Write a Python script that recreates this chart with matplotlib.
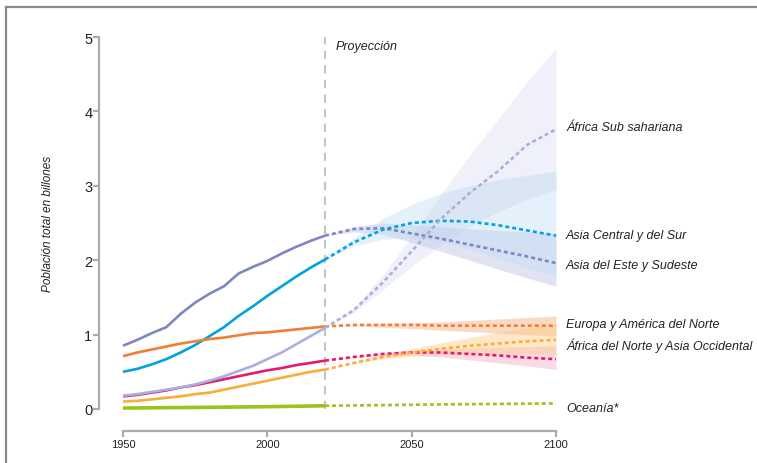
import matplotlib as mpl
mpl.use('Agg')
import matplotlib.pyplot as plt
from matplotlib.lines import Line2D
import numpy as np

plt.rcParams['font.family'] = ['Liberation Sans', 'DejaVu Sans']

# historical estimates (billions), 1950-2020 every 5 years
years_hist = list(range(1950, 2021, 5))
east_asia_hist = [0.85, 0.93, 1.02, 1.10, 1.28, 1.43, 1.55, 1.65, 1.82, 1.91, 1.99, 2.09, 2.18, 2.26, 2.33]
south_asia_hist = [0.50, 0.54, 0.60, 0.67, 0.76, 0.86, 0.98, 1.10, 1.25, 1.38, 1.52, 1.65, 1.78, 1.90, 2.01]
ssa_hist = [0.18, 0.20, 0.23, 0.26, 0.29, 0.33, 0.38, 0.44, 0.51, 0.58, 0.67, 0.76, 0.87, 0.98, 1.09]
europe_hist = [0.71, 0.76, 0.80, 0.84, 0.88, 0.91, 0.94, 0.96, 0.99, 1.02, 1.03, 1.05, 1.07, 1.09, 1.11]
nawa_hist = [0.10, 0.11, 0.13, 0.15, 0.17, 0.20, 0.22, 0.26, 0.30, 0.34, 0.38, 0.42, 0.46, 0.50, 0.53]
latam_hist = [0.17, 0.19, 0.22, 0.25, 0.29, 0.32, 0.36, 0.40, 0.44, 0.48, 0.52, 0.55, 0.59, 0.62, 0.65]
oceania_hist = [0.013, 0.014, 0.016, 0.018, 0.019, 0.021, 0.023, 0.025, 0.027, 0.029, 0.031, 0.034, 0.037, 0.040, 0.043]

# projections 2020-2100 every 10 years: median, low, high
years_proj = list(range(2020, 2101, 10))
ssa_proj = [1.09, 1.33, 1.70, 2.12, 2.55, 2.90, 3.20, 3.55, 3.76]
ssa_lo = [1.09, 1.30, 1.60, 1.92, 2.20, 2.45, 2.65, 2.82, 2.95]
ssa_hi = [1.09, 1.36, 1.80, 2.32, 2.88, 3.40, 3.90, 4.40, 4.85]
south_asia_proj = [2.01, 2.24, 2.41, 2.50, 2.53, 2.52, 2.47, 2.40, 2.33]
south_asia_lo = [2.01, 2.19, 2.28, 2.30, 2.25, 2.15, 2.02, 1.90, 1.78]
south_asia_hi = [2.01, 2.30, 2.56, 2.75, 2.90, 3.00, 3.08, 3.14, 3.20]
east_asia_proj = [2.33, 2.42, 2.43, 2.36, 2.29, 2.21, 2.13, 2.05, 1.96]
east_asia_lo = [2.33, 2.38, 2.35, 2.24, 2.12, 2.00, 1.88, 1.76, 1.65]
east_asia_hi = [2.33, 2.45, 2.50, 2.48, 2.45, 2.42, 2.40, 2.38, 2.36]
europe_proj = [1.11, 1.13, 1.13, 1.13, 1.12, 1.12, 1.12, 1.12, 1.12]
europe_lo = [1.11, 1.12, 1.10, 1.08, 1.06, 1.04, 1.02, 1.00, 0.98]
europe_hi = [1.11, 1.14, 1.15, 1.16, 1.17, 1.19, 1.21, 1.23, 1.25]
nawa_proj = [0.53, 0.62, 0.70, 0.76, 0.81, 0.85, 0.88, 0.91, 0.93]
nawa_lo = [0.53, 0.61, 0.67, 0.71, 0.73, 0.74, 0.74, 0.74, 0.73]
nawa_hi = [0.53, 0.63, 0.73, 0.81, 0.89, 0.96, 1.03, 1.09, 1.15]
latam_proj = [0.65, 0.70, 0.74, 0.76, 0.76, 0.74, 0.72, 0.69, 0.67]
latam_lo = [0.65, 0.69, 0.72, 0.72, 0.70, 0.66, 0.62, 0.58, 0.53]
latam_hi = [0.65, 0.71, 0.76, 0.79, 0.81, 0.82, 0.83, 0.84, 0.85]
oceania_proj = [0.043, 0.048, 0.052, 0.057, 0.061, 0.065, 0.068, 0.072, 0.075]

labels = ['África Sub sahariana', 'Asia Central y del Sur', 'Asia del Este y Sudeste',
          'Europa y América del Norte', 'África del Norte y Asia Occidental', 'Oceanía*']
label_y = [3.79, 2.34, 1.94, 1.14, 0.86, 0.013]

series = [
    # hist, proj, lo, hi, line colour, band colour, band alpha
    (east_asia_hist, east_asia_proj, east_asia_lo, east_asia_hi, '#7f86c1', '#a9b1dd', 0.35),
    (south_asia_hist, south_asia_proj, south_asia_lo, south_asia_hi, '#00a3dc', '#bcdcf4', 0.40),
    (europe_hist, europe_proj, europe_lo, europe_hi, '#ef7f32', '#f7a46a', 0.40),
    (latam_hist, latam_proj, latam_lo, latam_hi, '#e5186f', '#f08aaa', 0.30),
    (nawa_hist, nawa_proj, nawa_lo, nawa_hi, '#f9ad3a', '#fcc77a', 0.40),
    (ssa_hist, ssa_proj, ssa_lo, ssa_hi, '#a9b0dc', '#c2c6ea', 0.25),
    (oceania_hist, oceania_proj, None, None, '#9bc31c', None, 0),
]

fig = plt.figure(figsize=(7.57, 4.64), dpi=100)
ax = fig.add_axes([123/757, 54/464, 433/757, 372/464])

for hist, proj, lo, hi, c, bc, a in series:
    if lo is not None:
        ax.fill_between(years_proj, lo, hi, color=bc, alpha=a, lw=0, zorder=1)

lw = 1.9
for hist, proj, lo, hi, c, bc, a in series:
    w = 2.6 if c == '#9bc31c' else lw
    ax.plot(years_hist, hist, color=c, lw=w, solid_capstyle='butt', zorder=3, clip_on=False)
    ax.plot(years_proj, proj, color=c, lw=lw, ls=(0, (1.5, 1.15)), zorder=3, clip_on=False)

# projection marker
ax.plot([2020, 2020], [0, 5], color='#c4c4c4', lw=1.5, ls=(0, (4, 3)), zorder=2, clip_on=False)
ax.text(2023.5, 4.88, 'Proyección', fontsize=9, style='italic', va='center', color='#222222')

for t, yv in zip(labels, label_y):
    ax.text(2103.5, yv, t, fontsize=9, style='italic', va='center', color='#222222', clip_on=False)

ax.set_xlim(1950, 2100)
ax.set_ylim(0, 5)
ax.set_xticks([1950, 2000, 2050, 2100])
ax.set_yticks([0, 1, 2, 3, 4, 5])
for s in ['top', 'right']:
    ax.spines[s].set_visible(False)
ax.spines['left'].set_position(('outward', 17))
ax.spines['bottom'].set_position(('outward', 16))
for s in ['left', 'bottom']:
    ax.spines[s].set_color('#ababab')
    ax.spines[s].set_linewidth(1.6)
ax.tick_params(axis='both', color='#ababab', width=1.6, length=4, labelcolor='#222222')
ax.tick_params(axis='x', labelsize=8, pad=1.5)
ax.tick_params(axis='y', labelsize=10.5, pad=1)
ax.set_ylabel('Población total en billones', fontsize=8.5, style='italic', color='#222222', labelpad=22)

# partial outer frame
fig.add_artist(Line2D([6/757, 6/757], [0, 1 - 8/464], color='#8a8a8a', lw=1.6))
fig.add_artist(Line2D([6/757, 1], [1 - 8/464, 1 - 8/464], color='#8a8a8a', lw=1.6))

plt.savefig('out.png', dpi=100)
